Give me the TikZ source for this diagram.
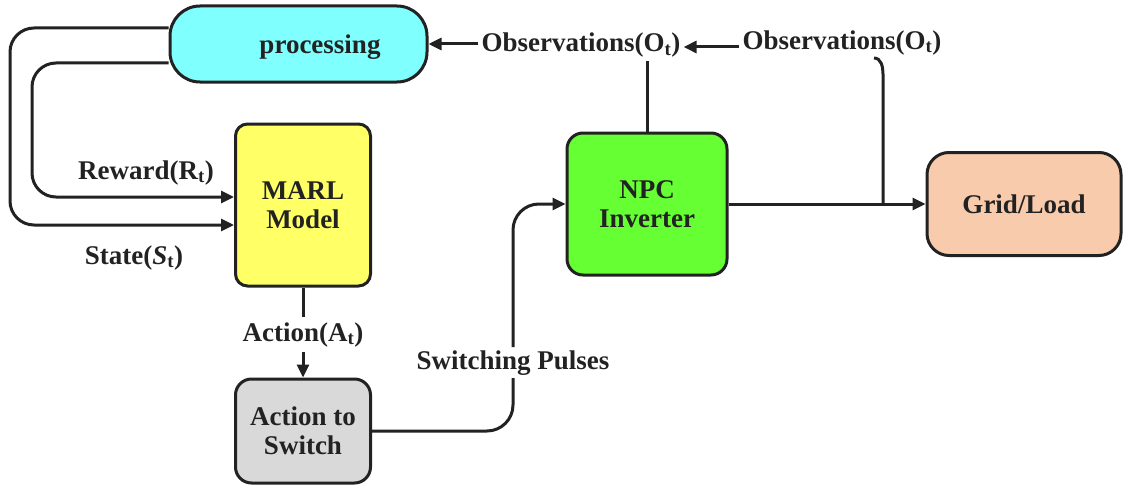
\documentclass[tikz,border=0pt]{standalone}
\usepackage{fontspec}
\setmainfont{Liberation Serif}
\usetikzlibrary{arrows.meta}
\definecolor{ink}{HTML}{222222}
\definecolor{cyanfill}{HTML}{80FFFF}
\definecolor{yellowfill}{HTML}{FFFF66}
\definecolor{greenfill}{HTML}{66FF33}
\definecolor{peachfill}{HTML}{F8CBAD}
\definecolor{greyfill}{HTML}{D9D9D9}
\begin{document}
\begin{tikzpicture}[x=1pt,y=-1pt,
  font=\fontsize{27}{29}\selectfont\bfseries,
  box/.style={draw=ink, line width=3pt, text=ink, align=center, inner sep=0pt},
  lbl/.style={text=ink, inner sep=3pt, anchor=base},
  wire/.style={draw=ink, line width=3pt},
  arr/.style={wire, -{Triangle[length=13pt,width=12pt]}},
]
\useasboundingbox (0,0) rectangle (1124,487);

% blocks
\node[box, fill=cyanfill, minimum width=257pt, minimum height=76pt, rounded corners=30pt] (proc) at (298.5,44) {};
\node[lbl] (proctxt) at (320,53) {processing};
\node[box, fill=yellowfill, minimum width=135pt, minimum height=162pt, rounded corners=12pt] (marl) at (303,205) {MARL\\Model};
\node[box, fill=greyfill, minimum width=135pt, minimum height=104pt, rounded corners=16pt] (a2s) at (303,431) {Action to\\Switch};
\node[box, fill=greenfill, minimum width=160pt, minimum height=142pt, rounded corners=16pt] (npc) at (647,204) {NPC\\Inverter};
\node[box, fill=peachfill, minimum width=194pt, minimum height=103pt, rounded corners=22pt] (grid) at (1024,204) {Grid/Load};

% signal labels
\node[lbl] (obs1) at (581,52) {Observations(O\textsubscript{t})};
\node[lbl] (obs2) at (842,49) {Observations(O\textsubscript{t})};
\node[lbl] (reward) at (146,179) {Reward(R\textsubscript{t})};
\node[lbl] (state) at (134,264) {State(\textit{S}\textsubscript{t})};
\node[lbl, inner sep=5pt] (actlbl) at (303,341) {Action(A\textsubscript{t})};
\node[lbl] (swlbl) at (513,369) {Switching Pulses};

% observation feedback
\draw[arr] (obs1.west |- proc.east) -- (proc.east);
\draw[arr] ([yshift=2pt]obs2.base west) -- ([yshift=2pt]obs2.base west -| obs1.east);
\draw[wire] (npc.north) -- (npc.north |- obs1.south);
\coordinate (tapTop) at (874,58);
\coordinate (tap) at (883,204);
\draw[wire] (tapTop) to[out=0,in=90] (883,74) -- (tap);

% power path
\draw[arr] (npc.east) -- (grid.west);

% state and reward into the model
\draw[arr, rounded corners=24pt] ([yshift=16pt]proc.west) -| (10,225) -- ([yshift=-20pt]marl.west);
\draw[arr, rounded corners=24pt] ([yshift=-19pt]proc.west) -| (32,197) -- ([yshift=8pt]marl.west);

% action path
\draw[wire] (marl.south) -- (marl.south |- actlbl.north);
\draw[arr] (a2s.north |- actlbl.south) -- (a2s.north);

% switching pulses
\draw[wire, rounded corners=26pt] (a2s.east) -| (swlbl.south);
\draw[arr, rounded corners=26pt] (swlbl.north) |- (npc.west);
\end{tikzpicture}
\end{document}
